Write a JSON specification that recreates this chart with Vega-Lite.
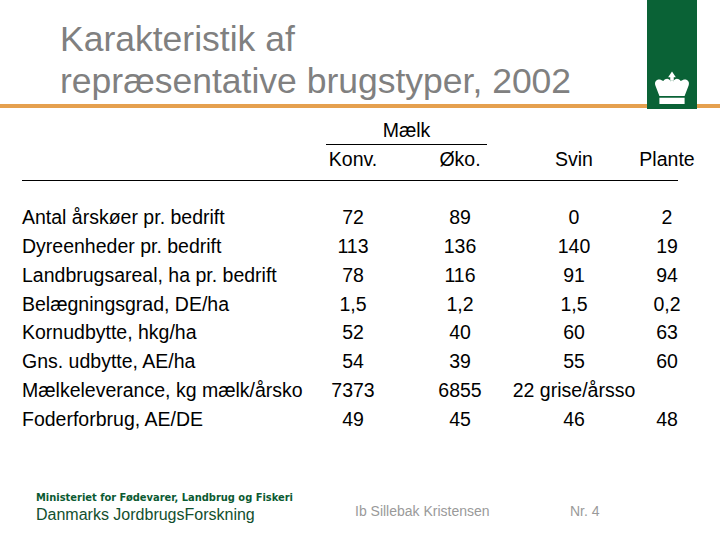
{
  "$schema": "https://vega.github.io/schema/vega-lite/v6.json",
  "width": 720,
  "height": 540,
  "autosize": {"type": "none"},
  "padding": 0,
  "background": "white",
  "config": {"view": {"stroke": null}, "text": {"font": "Liberation Sans"}},
  "datasets": {
    "cells": [
      {"nr": 1, "col": 1, "value": "72"}, {"nr": 1, "col": 2, "value": "89"}, {"nr": 1, "col": 3, "value": "0"}, {"nr": 1, "col": 4, "value": "2"},
      {"nr": 2, "col": 1, "value": "113"}, {"nr": 2, "col": 2, "value": "136"}, {"nr": 2, "col": 3, "value": "140"}, {"nr": 2, "col": 4, "value": "19"},
      {"nr": 3, "col": 1, "value": "78"}, {"nr": 3, "col": 2, "value": "116"}, {"nr": 3, "col": 3, "value": "91"}, {"nr": 3, "col": 4, "value": "94"},
      {"nr": 4, "col": 1, "value": "1,5"}, {"nr": 4, "col": 2, "value": "1,2"}, {"nr": 4, "col": 3, "value": "1,5"}, {"nr": 4, "col": 4, "value": "0,2"},
      {"nr": 5, "col": 1, "value": "52"}, {"nr": 5, "col": 2, "value": "40"}, {"nr": 5, "col": 3, "value": "60"}, {"nr": 5, "col": 4, "value": "63"},
      {"nr": 6, "col": 1, "value": "54"}, {"nr": 6, "col": 2, "value": "39"}, {"nr": 6, "col": 3, "value": "55"}, {"nr": 6, "col": 4, "value": "60"},
      {"nr": 7, "col": 1, "value": "7373"}, {"nr": 7, "col": 2, "value": "6855"}, {"nr": 7, "col": 3, "value": "22 grise/årsso"},
      {"nr": 8, "col": 1, "value": "49"}, {"nr": 8, "col": 2, "value": "45"}, {"nr": 8, "col": 3, "value": "46"}, {"nr": 8, "col": 4, "value": "48"}
    ],
    "rows": [
      {"nr": 1, "label": "Antal årskøer pr. bedrift"},
      {"nr": 2, "label": "Dyreenheder pr. bedrift"},
      {"nr": 3, "label": "Landbrugsareal, ha pr. bedrift"},
      {"nr": 4, "label": "Belægningsgrad, DE/ha"},
      {"nr": 5, "label": "Kornudbytte, hkg/ha"},
      {"nr": 6, "label": "Gns. udbytte, AE/ha"},
      {"nr": 7, "label": "Mælkeleverance, kg mælk/årsko"},
      {"nr": 8, "label": "Foderforbrug, AE/DE"}
    ],
    "columns": [
      {"col": 1, "name": "Konv."},
      {"col": 2, "name": "Øko."},
      {"col": 3, "name": "Svin"},
      {"col": 4, "name": "Plante"}
    ],
    "groups": [{"col": 1.5, "name": "Mælk"}]
  },
  "layer": [
    {
      "data": {"values": [{}]},
      "mark": {"type": "rule", "color": "#e5a04f", "strokeWidth": 4},
      "encoding": {"x": {"value": 0}, "x2": {"value": 720}, "y": {"value": 106}}
    },
    {
      "data": {"values": [{}]},
      "mark": {"type": "rect", "color": "#0a6236"},
      "encoding": {"x": {"value": 647}, "x2": {"value": 697}, "y": {"value": 0}, "y2": {"value": 109}}
    },
    {
      "data": {"values": [{}]},
      "mark": {
        "type": "point",
        "shape": "M-0.72,0.55 L0.72,0.55 L0.72,0.92 L-0.72,0.92 Z M-0.72,0.45 L-0.95,-0.15 C-1.05,-0.45 -0.75,-0.6 -0.5,-0.4 C-0.35,-0.6 -0.15,-0.55 -0.08,-0.38 L0,-0.42 L0.08,-0.38 C0.15,-0.55 0.35,-0.6 0.5,-0.4 C0.75,-0.6 1.05,-0.45 0.95,-0.15 L0.72,0.45 Z M-0.1,-0.42 L-0.1,-0.62 L-0.22,-0.62 L0,-0.95 L0.22,-0.62 L0.1,-0.62 L0.1,-0.42 Z",
        "filled": true,
        "color": "white",
        "opacity": 1,
        "size": 1225
      },
      "encoding": {"x": {"value": 672}, "y": {"value": 88}}
    },
    {
      "data": {"values": [{}]},
      "mark": {"type": "rule", "color": "black", "strokeWidth": 1},
      "encoding": {"x": {"value": 326}, "x2": {"value": 487}, "y": {"value": 144.5}}
    },
    {
      "data": {"values": [{}]},
      "mark": {"type": "rule", "color": "black", "strokeWidth": 1},
      "encoding": {"x": {"value": 22}, "x2": {"value": 678}, "y": {"value": 180.5}}
    },
    {
      "data": {"values": [{"title": "Karakteristik af\nrepræsentative brugstyper, 2002"}]},
      "mark": {"type": "text", "align": "left", "baseline": "alphabetic", "fontSize": 35.5, "lineHeight": 42, "lineBreak": "\n", "color": "#808080"},
      "encoding": {"x": {"value": 60}, "y": {"value": 51}, "text": {"field": "title"}}
    },
    {
      "data": {"name": "groups"},
      "mark": {"type": "text", "align": "center", "baseline": "alphabetic", "fontSize": 19.5, "color": "black"},
      "encoding": {
        "x": {"field": "col", "type": "quantitative", "axis": null, "scale": {"domain": [0, 1, 2, 3, 4], "range": [22, 353, 460, 574, 667], "zero": false, "nice": false}},
        "y": {"datum": -1, "type": "quantitative", "axis": null, "scale": {"domain": [-1, 0, 1, 8], "range": [137, 166, 224, 426], "zero": false, "nice": false}},
        "text": {"field": "name"}
      }
    },
    {
      "data": {"name": "columns"},
      "mark": {"type": "text", "align": "center", "baseline": "alphabetic", "fontSize": 19.5, "color": "black"},
      "encoding": {
        "x": {"field": "col", "type": "quantitative", "axis": null, "scale": {"domain": [0, 1, 2, 3, 4], "range": [22, 353, 460, 574, 667], "zero": false, "nice": false}},
        "y": {"datum": 0, "type": "quantitative", "axis": null, "scale": {"domain": [-1, 0, 1, 8], "range": [137, 166, 224, 426], "zero": false, "nice": false}},
        "text": {"field": "name"}
      }
    },
    {
      "data": {"name": "rows"},
      "mark": {"type": "text", "align": "left", "baseline": "alphabetic", "fontSize": 19.5, "color": "black"},
      "encoding": {
        "x": {"datum": 0, "type": "quantitative", "axis": null, "scale": {"domain": [0, 1, 2, 3, 4], "range": [22, 353, 460, 574, 667], "zero": false, "nice": false}},
        "y": {"field": "nr", "type": "quantitative", "axis": null, "scale": {"domain": [-1, 0, 1, 8], "range": [137, 166, 224, 426], "zero": false, "nice": false}},
        "text": {"field": "label"}
      }
    },
    {
      "data": {"name": "cells"},
      "mark": {"type": "text", "align": "center", "baseline": "alphabetic", "fontSize": 19.5, "color": "black"},
      "encoding": {
        "x": {"field": "col", "type": "quantitative", "axis": null, "scale": {"domain": [0, 1, 2, 3, 4], "range": [22, 353, 460, 574, 667], "zero": false, "nice": false}},
        "y": {"field": "nr", "type": "quantitative", "axis": null, "scale": {"domain": [-1, 0, 1, 8], "range": [137, 166, 224, 426], "zero": false, "nice": false}},
        "text": {"field": "value"}
      }
    },
    {
      "data": {"values": [{"text": "Ministeriet for Fødevarer, Landbrug og Fiskeri"}]},
      "mark": {"type": "text", "align": "left", "baseline": "alphabetic", "font": "DejaVu Sans Condensed, Roboto, Liberation Sans", "fontWeight": "bold", "fontSize": 11, "color": "#0b5a32"},
      "encoding": {"x": {"value": 36}, "y": {"value": 501}, "text": {"field": "text"}}
    },
    {
      "data": {"values": [{"text": "Danmarks JordbrugsForskning"}]},
      "mark": {"type": "text", "align": "left", "baseline": "alphabetic", "fontSize": 16, "color": "#124f2e"},
      "encoding": {"x": {"value": 36}, "y": {"value": 520}, "text": {"field": "text"}}
    },
    {
      "data": {"values": [{"text": "Ib Sillebak Kristensen"}]},
      "mark": {"type": "text", "align": "left", "baseline": "alphabetic", "fontSize": 14, "color": "#9a9a9a"},
      "encoding": {"x": {"value": 355}, "y": {"value": 516}, "text": {"field": "text"}}
    },
    {
      "data": {"values": [{"text": "Nr. 4"}]},
      "mark": {"type": "text", "align": "left", "baseline": "alphabetic", "fontSize": 14, "color": "#9a9a9a"},
      "encoding": {"x": {"value": 570}, "y": {"value": 516}, "text": {"field": "text"}}
    }
  ]
}
